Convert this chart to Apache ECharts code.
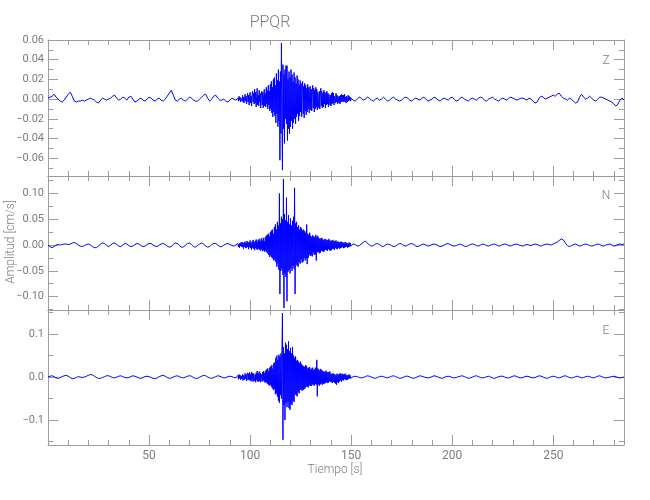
<!DOCTYPE html>
<html>
<head>
<meta charset="utf-8">
<script src="https://cdn.jsdelivr.net/npm/echarts@6/dist/echarts.min.js"></script>
<style>html,body{margin:0;padding:0;background:#fff}#c{width:650px;height:500px}</style>
</head>
<body>
<div id="c"></div>
<script>
// ---- sampling (seconds) ----
const PRE_T0 = 0, PRE_DT = 1;        // 0 .. 93 s
const BURST_T0 = 94, BURST_DT = 0.25; // 94 .. 149.75 s
const POST_T0 = 150, POST_DT = 1;    // 150 .. 285 s

// ---- values, in 0.001 cm/s ----
const zPre = [
 1,2,3,5,2,0,-2,-3,-1,2,
 5,7,3,-2,-3,-2,-2,-1,-2,-1,
 0,1,0,-1,-3,-4,-1,1,0,-1,
 0,1,3,4,1,-1,0,2,1,-1,
 2,3,0,-3,-2,0,1,-1,-2,0,
 2,1,-1,-2,0,1,-1,-2,0,3,
 6,9,4,-1,-2,0,1,-1,-2,0,
 2,1,-1,-2,-2,0,2,4,5,1,
 -2,0,3,4,1,-1,-1,0,-2,-3,
 -1,1,0,-1];
const zBurst = [
 1,-2,3,-1,2,-3,1,3,
 -2,4,-3,2,-4,1,5,-2,
 3,-5,2,6,-3,4,-6,2,
 7,-4,3,-7,5,8,-3,6,
 -5,10,-4,7,-8,3,11,-6,
 4,-7,9,-3,6,-9,5,8,
 -6,7,-9,4,10,-7,6,-8,
 12,-5,9,-10,14,-6,8,-12,
 15,-10,18,-14,12,-18,20,-13,
 22,-17,14,-24,26,-15,19,-28,
 30,-22,18,-62,28,-35,57,-20,
 -72,35,-30,25,-45,30,-20,34,
 -25,34,-42,20,-30,28,-35,22,
 -28,30,-22,25,-30,18,-24,27,
 -20,22,-25,16,-18,24,-15,20,
 -22,14,-17,19,-13,16,-18,12,
 18,-15,13,-19,16,-12,14,-16,
 11,-13,15,-10,12,-14,9,13,
 -11,10,-12,8,14,-9,11,-13,
 9,-10,12,-8,10,-11,7,9,
 -9,8,-10,6,11,-7,8,-9,
 6,-8,9,-5,7,-9,6,-6,
 8,-5,6,-8,5,7,-6,4,
 -7,6,-5,7,-4,6,-6,3,
 5,-4,6,-3,4,-5,3,5,
 -4,3,-5,4,-3,5,-2,4,
 -3,4,-2,5,-3,2,-4,3,
 2,-3,4,-2,3,-1,2,-2];
const zPost = [
 1,-1,-2,0,2,1,-1,0,2,1,
 -1,-2,0,1,-1,0,2,0,-2,-1,
 1,2,0,-1,-2,-1,1,2,1,-1,
 -2,0,1,0,-1,1,2,0,-2,-1,
 0,2,1,-1,-2,0,1,0,-1,1,
 2,0,-2,-1,1,2,0,-1,-2,0,
 1,0,-1,1,2,1,-1,-2,0,1,
 2,0,-1,-2,0,1,0,-1,1,2,
 1,0,-1,0,1,1,0,-1,1,0,
 -2,-4,-3,1,3,2,0,1,2,3,
 4,3,5,6,3,1,0,-1,1,0,
 -2,-4,-3,2,5,2,0,1,3,1,
 -1,-2,0,2,2,1,0,-1,-2,-3,
 -5,-7,-5,-1,1,-1];

const nPre = [
 0,-3,-5,-3,0,1,0,1,2,2,
 1,2,4,5,3,0,-2,-3,-1,1,
 2,0,-3,-5,-5,-2,2,4,3,-1,
 -3,0,3,4,1,-2,-3,0,3,2,
 -1,-3,-2,1,3,2,-1,-3,-2,1,
 3,3,0,-2,-3,0,2,3,1,-2,
 -4,-3,1,4,3,-1,-4,-4,0,3,
 4,1,-3,-4,-1,2,4,2,-2,-4,
 -3,1,3,3,0,-3,-3,0,2,3,
 1,-1,-2,0];
const nBurst = [
 3,-4,2,-5,4,-2,5,-3,
 6,-4,3,-7,5,-3,7,-5,
 4,-6,8,-3,5,-8,6,-4,
 9,-6,4,-9,7,-5,10,-7,
 5,-10,8,-6,11,-8,6,-9,
 10,-7,12,-9,8,-11,13,-8,
 9,-12,14,-10,8,-13,15,-11,
 18,-14,20,-16,22,-19,17,-23,
 25,-20,28,-24,30,-26,22,-30,
 35,-28,40,-33,30,-42,45,-36,
 38,-48,100,-95,42,-50,55,-45,
 50,-58,128,-122,60,-55,48,-62,
 92,-109,45,-52,58,-48,40,-55,
 52,-44,38,-50,47,-40,55,-46,
 111,-95,42,-38,45,-40,35,-42,
 38,-33,30,-36,35,-28,32,-34,
 28,-32,30,-25,27,-30,24,-26,
 40,-37,22,-25,20,-18,24,-21,
 18,-20,16,-22,19,-15,17,-19,
 15,-18,20,-30,16,-14,18,-13,
 14,-16,12,-15,13,-11,14,-12,
 11,-13,10,-12,12,-9,11,-10,
 9,-11,10,-8,12,-10,9,-11,
 8,-10,9,-7,10,-8,7,-9,
 8,-6,9,-7,6,-8,7,-5,
 6,-7,5,-6,7,-5,6,-4,
 5,-6,4,-5,6,-4,5,-3,
 4,-5,3,-4,5,-3,4,-2];
const nPost = [
 0,2,1,-2,-1,2,5,8,4,0,
 -2,-1,2,3,1,-2,-3,0,2,1,
 -1,-3,-2,1,3,2,-1,-2,0,2,
 3,1,-2,-3,-1,1,2,0,-2,-1,
 1,2,1,-1,-3,-2,0,2,3,1,
 -1,-2,-1,1,2,0,-2,-3,-1,1,
 2,1,-1,-2,0,2,1,-1,-2,0,
 1,2,0,-2,-1,1,2,1,-1,-2,
 0,1,2,0,-1,-2,0,1,0,-1,
 1,2,1,-1,-2,0,1,2,1,0,
 2,4,6,9,12,10,4,-1,-3,-1,
 1,2,0,-2,-1,1,2,1,-1,-2,
 -1,1,2,1,-1,-2,0,1,2,0,
 -2,-1,1,2,1,2];

const ePre = [
 0,2,3,1,-2,-3,-1,1,3,4,
 2,-1,-4,-3,-1,1,0,-1,0,2,
 4,6,5,2,-1,-3,-3,-1,1,3,
 3,1,-1,-2,0,2,3,1,-1,-2,
 -1,1,3,2,0,-2,-3,-1,1,2,
 1,-1,-3,-4,-2,1,3,4,2,-1,
 -3,-2,0,2,3,1,-1,-2,0,2,
 3,2,-1,-3,-3,0,2,4,3,0,
 -2,-3,-1,1,3,2,0,-2,-1,1,
 2,1,-1,-2];
const eBurst = [
 4,-5,6,-3,5,-6,3,7,
 -5,6,-8,4,7,-6,9,-4,
 6,-9,5,10,-7,8,-6,11,
 -8,7,-10,12,-6,9,-11,8,
 12,-9,6,-12,10,-7,14,-10,
 8,-11,13,-9,10,-12,7,11,
 -10,12,-8,14,-11,9,-13,15,
 -12,18,-15,20,-17,14,-20,22,
 -18,25,-22,28,-26,20,-30,32,
 -28,35,-40,45,-38,50,-45,40,
 -55,52,-60,48,-42,55,-50,60,
 149,-146,70,-65,55,-100,80,-60,
 75,-70,65,-58,83,-72,60,-76,
 68,-62,55,-65,70,-55,50,-58,
 45,-40,48,-42,38,-45,40,-35,
 36,-38,32,-30,36,-28,30,-32,
 27,-30,25,-28,24,-26,28,-22,
 25,-22,20,-24,22,-19,23,-20,
 18,-21,20,-17,22,-19,16,-20,
 19,-16,22,-18,40,-45,20,-17,
 18,-20,15,-17,19,-15,16,-18,
 14,-16,13,-15,12,-14,15,-12,
 12,-14,11,-13,12,-10,13,-11,
 8,-12,6,-14,9,-11,7,-13,
 6,-15,4,-18,8,-12,5,-14,
 7,-10,9,-8,6,-11,8,-7,
 6,-8,7,-5,8,-6,5,-7,
 4,-6,5,-4,6,-3,4,-3];
const ePost = [
 -1,1,2,1,-1,-2,-1,1,3,2,
 0,-2,-3,-1,1,2,1,-1,-2,0,
 2,3,1,-1,-3,-2,0,2,2,0,
 -2,-3,-1,1,3,2,0,-1,-2,-1,
 1,3,2,0,-2,-3,-1,1,2,1,
 -1,-2,-1,1,2,3,1,-1,-3,-2,
 0,2,3,1,-1,-2,-1,1,2,0,
 -2,-3,-1,1,2,2,0,-2,-2,0,
 2,3,1,-1,-2,-1,1,2,1,-1,
 -2,-1,1,3,2,0,-2,-3,-1,1,
 2,1,-1,-2,0,2,3,1,-1,-2,
 -1,1,2,0,-2,-1,1,2,1,-1,
 -2,0,2,3,1,-1,-2,-1,0,1,
 2,1,-1,-2,-1,0];

// ---- labels / ticks ----
const components = ['Z', 'N', 'E'];
const xMajor = [50, 100, 150, 200, 250];
const xMinor = [10,20,30,40,60,70,80,90,110,120,130,140,160,170,180,190,210,220,230,240,260,270,280];
const yMajor = [
  [-0.06,-0.04,-0.02,0,0.02,0.04,0.06],
  [-0.10,-0.05,0,0.05,0.10],
  [-0.1,0,0.1]];
const yMinor = [
  [-0.07,-0.05,-0.03,-0.01,0.01,0.03,0.05],
  [-0.125,-0.075,-0.025,0.025,0.075,0.125],
  [-0.15,-0.05,0.05,0.15]];
const yDecimals = [2, 2, 1];
const yRange = [[-0.078, 0.06], [-0.126, 0.134], [-0.158, 0.156]];

function build(pre, burst, post) {
  const out = [];
  pre.forEach((v, i) => out.push([PRE_T0 + i * PRE_DT, v / 1000]));
  burst.forEach((v, i) => out.push([BURST_T0 + i * BURST_DT, v / 1000]));
  post.forEach((v, i) => out.push([POST_T0 + i * POST_DT, v / 1000]));
  return out;
}
const traces = [build(zPre, zBurst, zPost), build(nPre, nBurst, nPost), build(ePre, eBurst, ePost)];

const AX = '#9c9c9c';
const TXT = '#7c7c7c';
const FONT = 'Roboto';
const grids = [
  {left: 48, right: 26, top: 40, height: 136},
  {left: 48, right: 26, top: 176, height: 134},
  {left: 48, right: 26, top: 310, height: 135}];

const xAxes = [], yAxes = [], series = [];
grids.forEach((g, gi) => {
  const mk = (pos, ticks, len, labels, line) => ({
    type: 'value', gridIndex: gi, position: pos, min: 0, max: 285,
    axisLine: {show: line, onZero: false, lineStyle: {color: AX, width: 1}},
    axisTick: {show: true, inside: true, length: len, customValues: ticks, lineStyle: {color: AX}},
    axisLabel: {show: labels, customValues: xMajor, color: TXT, fontFamily: FONT, fontSize: 12, margin: 5},
    splitLine: {show: false}, minorTick: {show: false}
  });
  xAxes.push(mk('bottom', xMajor, 10, gi === 2, true));
  xAxes.push(mk('bottom', xMinor, 5, false, false));
  xAxes.push(mk('top', xMajor, 10, false, true));
  xAxes.push(mk('top', xMinor, 5, false, false));
  const d = yDecimals[gi];
  const mky = (pos, ticks, len, labels, line) => ({
    type: 'value', gridIndex: gi, position: pos, min: yRange[gi][0], max: yRange[gi][1],
    axisLine: {show: line, onZero: false, lineStyle: {color: AX, width: 1}},
    axisTick: {show: true, inside: true, length: len, customValues: ticks, lineStyle: {color: AX}},
    axisLabel: {show: labels, customValues: yMajor[gi], color: TXT, fontFamily: FONT, fontSize: 11, margin: 4,
      formatter: v => (v < -1e-9 ? '\u2212' : '') + Math.abs(v).toFixed(d)},
    splitLine: {show: false}, minorTick: {show: false}
  });
  const base = yAxes.length;
  yAxes.push(mky('left', yMajor[gi], 10, true, true));
  yAxes.push(mky('left', yMinor[gi], 5, false, false));
  yAxes.push(mky('right', yMajor[gi], 10, false, true));
  yAxes.push(mky('right', yMinor[gi], 5, false, false));
  series.push({
    type: 'line', xAxisIndex: gi * 4, yAxisIndex: base, data: traces[gi],
    showSymbol: false, symbol: 'none', sampling: null, silent: true,
    lineStyle: {color: '#0000ff', width: 1}, clip: true
  });
});

const labelYs = [61, 196, 331];
const graphic = [
  {type: 'text', x: 270, y: 23, style: {text: 'PPQR', fill: TXT, font: '300 16px ' + FONT, textAlign: 'center', textVerticalAlign: 'middle'}},
  {type: 'text', x: 335, y: 470, style: {text: 'Tiempo [s]', fill: TXT, font: '300 12px ' + FONT, textAlign: 'center', textVerticalAlign: 'middle'}},
  {type: 'text', x: 11, y: 242, rotation: Math.PI / 2, style: {text: 'Amplitud [cm/s]', fill: TXT, font: '300 12px ' + FONT, textAlign: 'center', textVerticalAlign: 'middle'}}
];
components.forEach((c, i) => graphic.push({type: 'text', x: 606, y: labelYs[i],
  style: {text: c, fill: TXT, font: '300 12px ' + FONT, textAlign: 'center', textVerticalAlign: 'middle'}}));

const chart = echarts.init(document.getElementById('c'), null, {renderer: 'canvas'});
chart.setOption({
  animation: false,
  backgroundColor: '#fff',
  grid: grids.map(g => Object.assign({outerBoundsMode: 'none', containLabel: false}, g)),
  xAxis: xAxes, yAxis: yAxes, series: series, graphic: graphic
});
</script>
</body>
</html>
